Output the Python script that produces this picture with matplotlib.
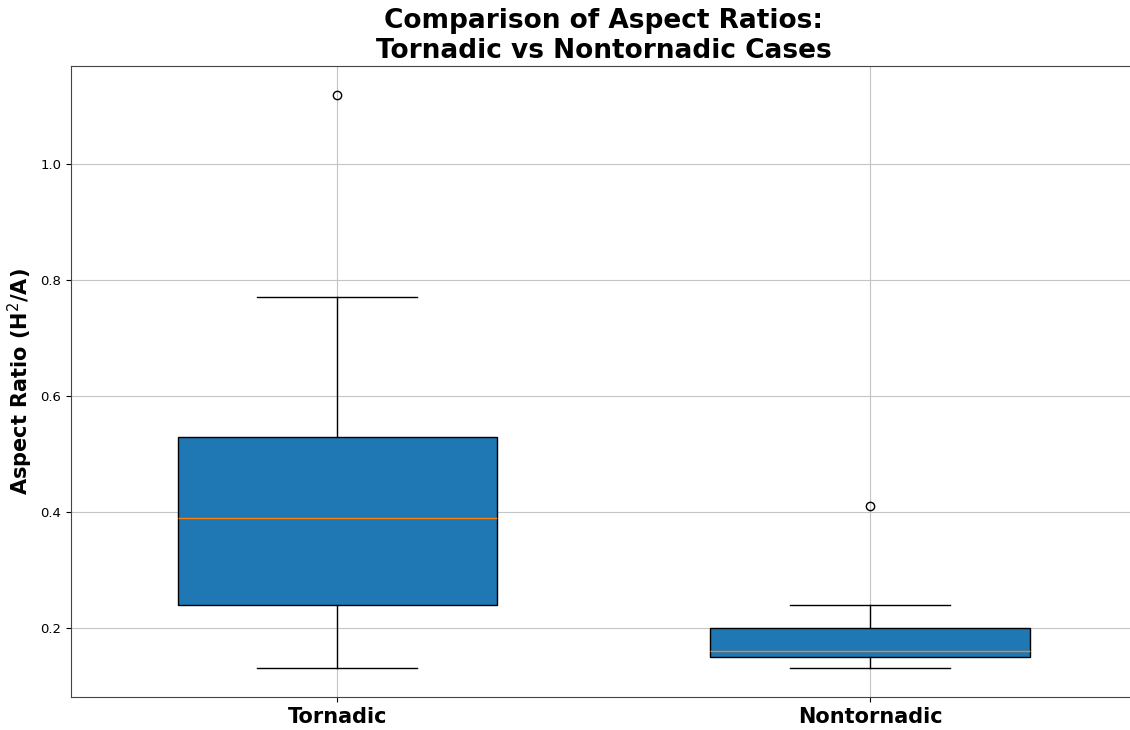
import matplotlib
matplotlib.use("Agg")
import matplotlib.pyplot as plt

# box statistics
labels = ["Tornadic", "Nontornadic"]
whislo = [0.13, 0.13]
q1 = [0.24, 0.15]
med = [0.39, 0.16]
q3 = [0.53, 0.20]
whishi = [0.77, 0.24]
fliers = [[1.12], [0.41]]

stats = []
for i in range(len(labels)):
    stats.append({"label": labels[i], "whislo": whislo[i], "q1": q1[i], "med": med[i],
                  "q3": q3[i], "whishi": whishi[i], "fliers": fliers[i]})

fig = plt.figure(figsize=(11.3, 7.3), dpi=100)
ax = fig.add_axes([0.0628, 0.0452, 0.943, 0.8644])

ax.bxp(stats, patch_artist=True, widths=0.6,
       boxprops=dict(facecolor="#1f77b4", edgecolor="black"),
       medianprops=dict(color="#ff7f0e"))
ax.grid(True, color="#c4c4c4", linewidth=0.8)
ax.set_axisbelow(True)

for s in ax.spines.values():
    s.set_color("#444444")
ax.spines["right"].set_visible(False)

ax.set_yticks([0.2, 0.4, 0.6, 0.8, 1.0])
ax.tick_params(axis="y", labelsize=9.5)
ax.tick_params(axis="x", labelsize=15)
for t in ax.get_xticklabels():
    t.set_fontweight("bold")

ax.set_ylabel("Aspect Ratio (H$^2$/A)", fontsize=15, fontweight="bold")
ax.set_title("Comparison of Aspect Ratios:\nTornadic vs Nontornadic Cases",
             fontsize=19, fontweight="bold")

fig.savefig("out.png", dpi=100)
